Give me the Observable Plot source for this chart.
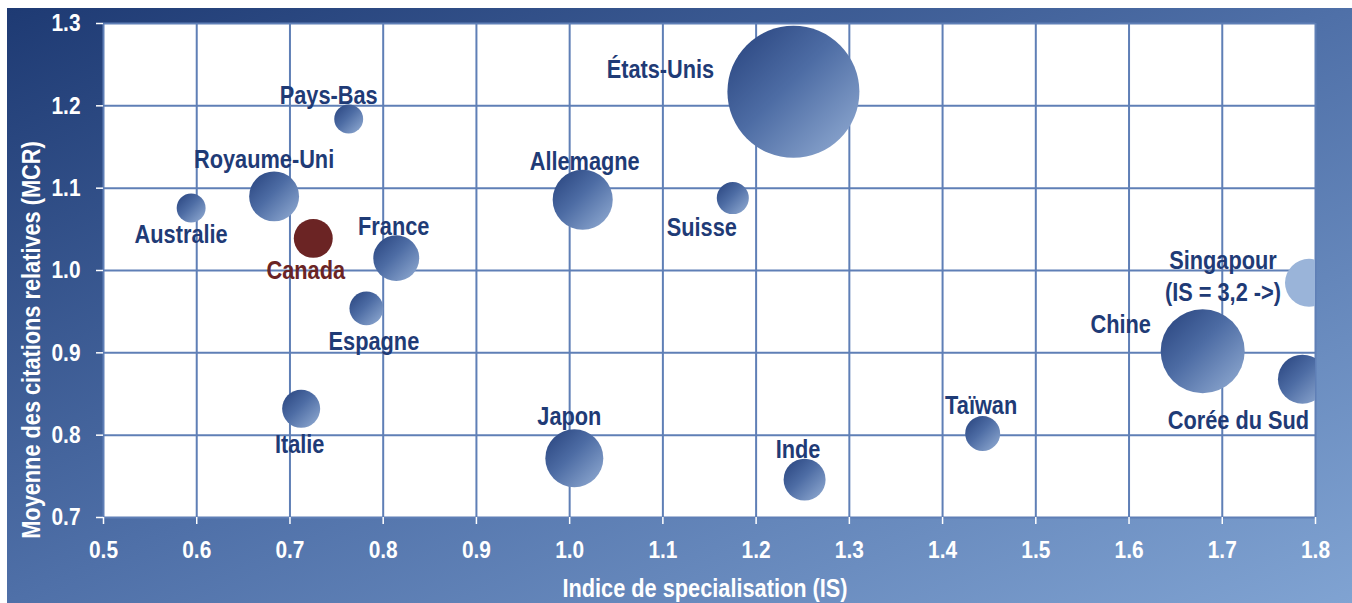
<!DOCTYPE html>
<html>
<head>
<meta charset="utf-8">
<script src="https://cdn.jsdelivr.net/npm/d3@7"></script>
<script src="https://cdn.jsdelivr.net/npm/@observablehq/plot@0.6"></script>
<style>
  html, body { margin: 0; padding: 0; background: #ffffff; }
  #panel {
    position: absolute; left: 7px; top: 8px; width: 1345px; height: 595px;
    background: linear-gradient(to bottom right, #1e3a73 0%, #4f70a8 50%, #80a3d2 100%);
  }
</style>
</head>
<body>
<div id="panel"></div>
<script>
// ---- Data ----
const pays = ["Australie", "Royaume-Uni", "Pays-Bas", "Canada", "France", "Espagne", "Italie",
  "Allemagne", "Japon", "Suisse", "États-Unis", "Inde", "Taïwan", "Chine", "Singapour", "Corée du Sud"];
// Indice de spécialisation (Singapour: IS = 3,2, drawn at the right edge)
const indiceIS = [0.594, 0.683, 0.763, 0.725, 0.814, 0.782, 0.712,
  1.014, 1.005, 1.175, 1.240, 1.252, 1.443, 1.679, 1.793, 1.786];
// Moyenne des citations relatives
const moyenneMCR = [1.076, 1.090, 1.184, 1.039, 1.015, 0.954, 0.832,
  1.086, 0.772, 1.088, 1.217, 0.746, 0.802, 0.902, 0.985, 0.868];
// Relative output (bubble area, États-Unis = 100)
const taille = [4.8, 14.3, 4.8, 8.7, 12.1, 6.6, 8.3,
  20.7, 19.3, 5.9, 100, 10.1, 7.0, 40.5, 13.2, 13.8];
const noteSingapour = "(IS = 3,2 ->)";
const xTicks = [0.5, 0.6, 0.7, 0.8, 0.9, 1.0, 1.1, 1.2, 1.3, 1.4, 1.5, 1.6, 1.7, 1.8];
const yTicks = [0.7, 0.8, 0.9, 1.0, 1.1, 1.2, 1.3];
const titreX = "Indice de specialisation (IS)";
const titreY = "Moyenne des citations relatives (MCR)";

// ---- Layout: label offsets (px) relative to each bubble ----
const labelOffsets = {
  "Australie": [-10, 25], "Royaume-Uni": [-10, -39], "Pays-Bas": [-20, -25.5],
  "Canada": [-7.5, 30.5], "France": [-2.5, -33.5], "Espagne": [7.5, 31],
  "Italie": [-1.5, 33.5], "Allemagne": [2, -40], "Japon": [-5, -43.5],
  "Suisse": [-31, 28], "États-Unis": [-133, -24], "Inde": [-6.5, -31.5],
  "Taïwan": [-1.5, -30], "Chine": [-82, -28], "Singapour": [-86, -8],
  "Corée du Sud": [-64, 40]
};

const data = pays.map((p, i) => ({
  pays: p, is: indiceIS[i], mcr: moyenneMCR[i], taille: taille[i],
  label: p === "Singapour" ? p + "\n" + noteSingapour : p
}));

const FONT = "'Liberation Sans', Arial, sans-serif";
const SX = 0.87; // horizontal condensing to mimic a narrow bold face
const navy = "#1f3b76";
const red = "#6b2424";
const fmt = d3.format(".1f");

const labelMarks = data.map(d => {
  const [dx, dy] = labelOffsets[d.pays];
  return Plot.text([d], {
    x: "is", y: "mcr", text: "label", dx, dy,
    fill: d.pays === "Canada" ? red : navy,
    fontSize: 25, fontWeight: "bold", lineAnchor: "middle", textAnchor: "middle",
    lineHeight: 1.28
  });
});

const W = 1345, H = 595;
const chart = Plot.plot({
  width: W, height: H,
  marginLeft: 96, marginRight: 37, marginTop: 15, marginBottom: 86,
  style: { background: "transparent", fontFamily: FONT, fontWeight: "bold", color: "white", overflow: "visible" },
  x: { domain: [0.5, 1.8], label: null },
  y: { domain: [0.7, 1.3], label: null },
  r: { domain: [0, 100], range: [0, 66] },
  marks: [
    Plot.frame({ fill: "white", stroke: null }),
    Plot.gridX(xTicks, { stroke: "#5f7fb6", strokeOpacity: 1, strokeWidth: 2 }),
    Plot.gridY(yTicks, { stroke: "#5f7fb6", strokeOpacity: 1, strokeWidth: 2 }),
    Plot.axisX(xTicks, { tickSize: 7, tickPadding: 16, tickFormat: fmt, fontSize: 24, stroke: "white", fill: "white", label: null, strokeWidth: 1.5 }),
    Plot.axisY(yTicks, { tickSize: 7, tickPadding: 16, tickFormat: fmt, fontSize: 24, stroke: "white", fill: "white", label: null, strokeWidth: 1.5 }),
    Plot.dot(data.filter(d => d.pays !== "Canada" && d.pays !== "Singapour"),
      { x: "is", y: "mcr", r: "taille", fill: "url(#bubGrad)", stroke: null, clip: true }),
    Plot.dot(data.filter(d => d.pays === "Canada"),
      { x: "is", y: "mcr", r: "taille", fill: red, stroke: null, clip: true }),
    Plot.dot(data.filter(d => d.pays === "Singapour"),
      { x: "is", y: "mcr", r: "taille", fill: "#9ab4d9", stroke: null, clip: true }),
    ...labelMarks
  ]
});

// gradient definition for the bubbles
const svg = d3.select(chart);
const defs = svg.insert("defs", ":first-child");
const g = defs.append("linearGradient").attr("id", "bubGrad")
  .attr("x1", "0").attr("y1", "0").attr("x2", "1").attr("y2", "1");
g.append("stop").attr("offset", "0%").attr("stop-color", "#26417c");
g.append("stop").attr("offset", "45%").attr("stop-color", "#4d6ca4");
g.append("stop").attr("offset", "100%").attr("stop-color", "#95afd5");

// axis titles
svg.append("text").text(titreX)
  .attr("x", 698).attr("y", 589)
  .attr("text-anchor", "middle").attr("fill", "white")
  .attr("font-size", 25).attr("font-weight", "bold").attr("font-family", FONT);
svg.append("text").text(titreY)
  .attr("transform", "translate(33,332) rotate(-90)")
  .attr("text-anchor", "middle").attr("fill", "white")
  .attr("font-size", 25).attr("font-weight", "bold").attr("font-family", FONT);

// condense every text horizontally around its own anchor point (y untouched)
svg.selectAll("text").each(function () {
  const t = d3.select(this);
  const xa = t.attr("x");
  const x = xa && /^-?[\d.]+$/.test(xa.trim()) ? parseFloat(xa) : 0;
  const tr = t.attr("transform") || "";
  t.attr("transform", `${tr} translate(${x},0) scale(${SX},1) translate(${-x},0)`.trim());
});

document.getElementById("panel").appendChild(chart);
</script>
</body>
</html>
